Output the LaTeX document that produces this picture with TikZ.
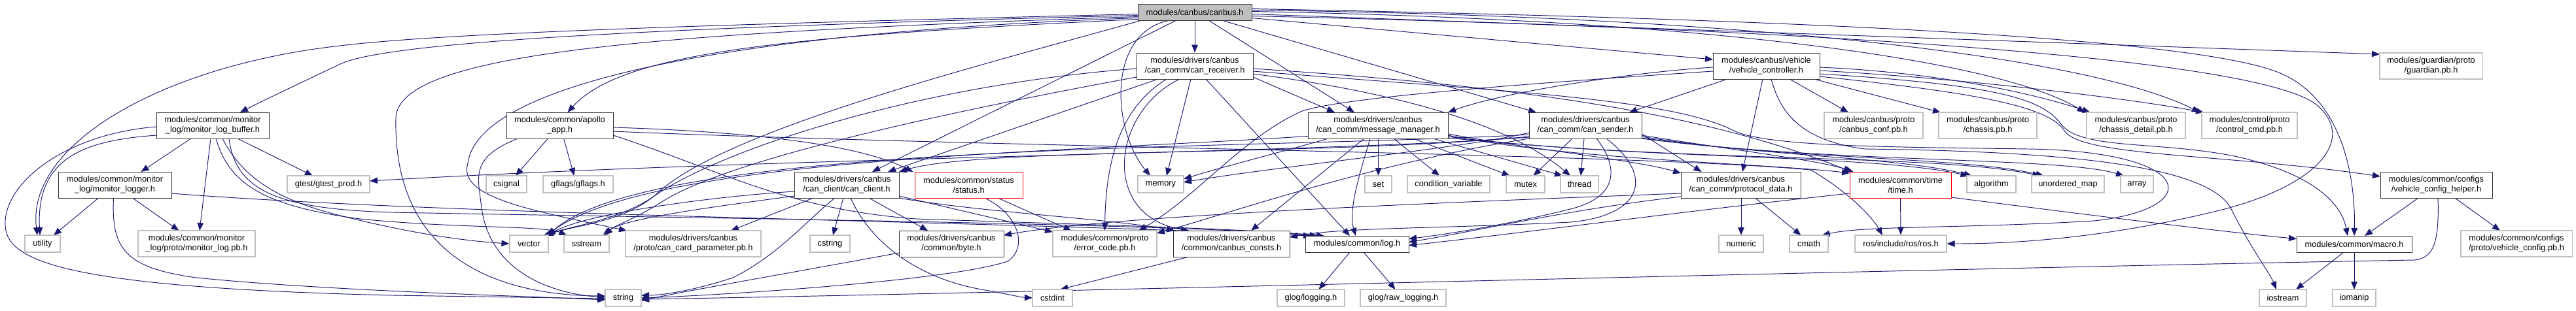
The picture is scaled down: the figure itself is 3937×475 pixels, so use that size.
\documentclass[tikz,border=0pt]{standalone}
\usepackage{fontspec}
\setmainfont{Liberation Sans}
\usetikzlibrary{arrows.meta,calc,backgrounds}
\definecolor{ec}{HTML}{191970}
\definecolor{gb}{HTML}{BFBFBF}
\newcommand{\lbl}{\fontsize{12.8}{15}\selectfont}
\tikzset{
  nd/.style={draw, fill=white, line width=1pt, inner sep=0pt, align=center, font=\lbl},
  bk/.style={nd, draw=black!80},
  gr/.style={nd, draw=gb, line width=1.1pt},
  rd/.style={nd, draw=red},
  cbx/.style={nd, draw=black!80, fill=gb},
  ed/.style={draw=ec, line width=0.95pt, -{Triangle[length=12pt,width=9.5pt]}},
}
\begin{document}
\begin{tikzpicture}[x=1pt,y=-1pt]
\useasboundingbox (0,0) rectangle (3937,475);
% nodes
\node[cbx, minimum width=174, minimum height=25] (cb) at (1826,18.5) {modules/canbus/canbus.h};
\node[bk, minimum width=178, minimum height=40] (rx) at (1826,101) {modules/drivers/canbus\\/can\_comm/can\_receiver.h};
\node[bk, minimum width=172, minimum height=40] (mlb) at (325,192) {modules/common/monitor\\\_log/monitor\_log\_buffer.h};
\node[bk, minimum width=173, minimum height=40] (logger) at (175.5,283) {modules/common/monitor\\\_log/monitor\_logger.h};
\node[gr, minimum width=54, minimum height=26] (utility) at (65,373) {utility};
\node[gr, minimum width=179, minimum height=40] (mlpb) at (300.5,373) {modules/common/monitor\\\_log/proto/monitor\_log.pb.h};
\node[gr, minimum width=126, minimum height=26] (gtest) at (502,282) {gtest/gtest\_prod.h};
\node[bk, minimum width=163, minimum height=40] (app) at (855.5,192) {modules/common/apollo\\\_app.h};
\node[gr, minimum width=62, minimum height=26] (csignal) at (774,282) {csignal};
\node[gr, minimum width=107, minimum height=26] (gflags) at (883.5,282) {gflags/gflags.h};
\node[gr, minimum width=59, minimum height=26] (vector) at (808.5,373) {vector};
\node[gr, minimum width=69, minimum height=26] (sstream) at (896.5,373) {sstream};
\node[gr, minimum width=207, minimum height=40] (ccp) at (1059.5,373) {modules/drivers/canbus\\/proto/can\_card\_parameter.pb.h};
\node[gr, minimum width=55, minimum height=26] (string) at (952.5,456) {string};
\node[bk, minimum width=160, minimum height=40] (cc) at (1294,283) {modules/drivers/canbus\\/can\_client/can\_client.h};
\node[rd, minimum width=165, minimum height=40] (status) at (1480.5,283) {modules/common/status\\/status.h};
\node[gr, minimum width=61, minimum height=26] (cstring) at (1268.5,373) {cstring};
\node[bk, minimum width=160, minimum height=40] (byte) at (1454,373) {modules/drivers/canbus\\/common/byte.h};
\node[gr, minimum width=70, minimum height=26] (memory) at (1774,282) {memory};
\node[gr, minimum width=159, minimum height=40] (errc) at (1688.5,373) {modules/common/proto\\/error\_code.pb.h};
\node[bk, minimum width=178, minimum height=40] (consts) at (1882,373) {modules/drivers/canbus\\/common/canbus\_consts.h};
\node[gr, minimum width=61, minimum height=26] (cstdint) at (1608.5,456) {cstdint};
\node[bk, minimum width=158, minimum height=25] (log) at (2074,373.5) {modules/common/log.h};
\node[gr, minimum width=103, minimum height=26] (glog) at (2003.5,456) {glog/logging.h};
\node[gr, minimum width=131, minimum height=26] (raw) at (2144.5,456) {glog/raw\_logging.h};
\node[bk, minimum width=214, minimum height=40] (mm) at (2106,192) {modules/drivers/canbus\\/can\_comm/message\_manager.h};
\node[bk, minimum width=172, minimum height=40] (snd) at (2423,192) {modules/drivers/canbus\\/can\_comm/can\_sender.h};
\node[gr, minimum width=41, minimum height=26] (set) at (2106.5,282) {set};
\node[gr, minimum width=126, minimum height=26] (condvar) at (2214,282) {condition\_variable};
\node[gr, minimum width=59, minimum height=26] (mutex) at (2331.5,282) {mutex};
\node[gr, minimum width=58, minimum height=26] (thread) at (2414,282) {thread};
\node[bk, minimum width=163, minimum height=40] (vc) at (2699.5,101) {modules/canbus/vehicle\\/vehicle\_controller.h};
\node[gr, minimum width=151, minimum height=40] (cconf) at (2863.5,192) {modules/canbus/proto\\/canbus\_conf.pb.h};
\node[gr, minimum width=150, minimum height=40] (chassis) at (3038,192) {modules/canbus/proto\\/chassis.pb.h};
\node[bk, minimum width=183, minimum height=40] (pd) at (2660.5,283) {modules/drivers/canbus\\/can\_comm/protocol\_data.h};
\node[rd, minimum width=155, minimum height=40] (time) at (2904.5,283) {modules/common/time\\/time.h};
\node[gr, minimum width=68, minimum height=26] (numeric) at (2661,373) {numeric};
\node[gr, minimum width=59, minimum height=26] (cmath) at (2764.5,373) {cmath};
\node[gr, minimum width=140, minimum height=26] (ros) at (2905,373) {ros/include/ros/ros.h};
\node[gr, minimum width=151, minimum height=40] (cdet) at (3264.5,192) {modules/canbus/proto\\/chassis\_detail.pb.h};
\node[gr, minimum width=146, minimum height=40] (ctrl) at (3438,192) {modules/control/proto\\/control\_cmd.pb.h};
\node[gr, minimum width=75, minimum height=26] (algorithm) at (3043.5,282) {algorithm};
\node[gr, minimum width=111, minimum height=26] (umap) at (3160.5,282) {unordered\_map};
\node[gr, minimum width=50, minimum height=26] (array) at (3266,282) {array};
\node[gr, minimum width=72, minimum height=26] (iostream) at (3489,456) {iostream};
\node[gr, minimum width=157, minimum height=40] (guardian) at (3715.5,101) {modules/guardian/proto\\/guardian.pb.h};
\node[bk, minimum width=171, minimum height=40] (vch) at (3723.5,283) {modules/common/configs\\/vehicle\_config\_helper.h};
\node[bk, minimum width=176, minimum height=25] (macro) at (3598,373.5) {modules/common/macro.h};
\node[gr, minimum width=170, minimum height=40] (vcpb) at (3846,373) {modules/common/configs\\/proto/vehicle\_config.pb.h};
\node[gr, minimum width=66, minimum height=26] (iomanip) at (3598,456) {iomanip};

\begin{pgfonlayer}{background}
% canbus.h
\draw[ed] (cb.south) -- (rx.north);
\draw[ed] ($(cb)+(-87,3)$) .. controls (1200,35) and (700,48) .. (520,70) .. controls (250,100) and (40,220) .. ($(utility)+(-8,-13)$);
\draw[ed] ($(cb)+(-87,5)$) .. controls (1100,40) and (600,60) .. (520,98) .. controls (440,136) and (390,160) .. ($(mlb)+(42,-20)$);
\draw[ed] ($(cb)+(-87,7)$) .. controls (1000,50) and (610,80) .. (605,180) .. controls (600,420) and (800,452) .. ($(string)+(-27.5,-3)$);
\draw[ed] ($(cb)+(-87,9)$) .. controls (1100,50) and (730,130) .. (715,250) .. controls (700,300) and (800,320) .. ($(ccp)+(-101.5,-20)$);
\draw[ed] ($(cb)+(-87,11)$) .. controls (1200,55) and (950,80) .. ($(app)+(12,-20)$);
\draw[ed] ($(cb)+(-81,12.5)$) .. controls (1500,100) and (1100,200) .. (1000,300) .. controls (950,340) and (880,345) .. ($(vector)+(25,-13)$);
\draw[ed] ($(cb)+(-28,12.5)$) -- ($(cc)+(39,-20)$);
\draw[ed] ($(cb)+(-38,12.5)$) .. controls (1690,50) and (1700,200) .. ($(memory)+(-16,-13)$);
\draw[ed] ($(cb)+(21,12.5)$) -- ($(mm)+(-36,-20)$);
\draw[ed] ($(cb)+(41,12.5)$) -- ($(snd)+(-75,-20)$);
\draw[ed] ($(cb)+(87,9)$) -- ($(vc)+(-81.5,-10)$);
\draw[ed] ($(cb)+(87,3)$) -- ($(guardian)+(-78.5,-18)$);
\draw[ed] ($(cb)+(87,-1)$) .. controls (2600,30) and (3050,90) .. ($(cdet)+(-78,-20)$);
\draw[ed] ($(cb)+(87,-3)$) .. controls (2700,25) and (3200,90) .. ($(ctrl)+(-76,-20)$);
\draw[ed] ($(cb)+(87,-5)$) .. controls (2800,30) and (3350,60) .. (3480,110) .. controls (3584,150) and (3600,280) .. ($(macro)+(0,-12.5)$);
\draw[ed] ($(cb)+(87,6)$) .. controls (2800,45) and (3450,90) .. (3540,160) .. controls (3600,210) and (3550,280) .. (3400,320) .. controls (3200,370) and (3050,373) .. (ros.east);
% monitor_log_buffer.h
\draw[ed] ($(mlb)+(-86,15)$) .. controls (130,215) and (55,240) .. ($(utility)+(-4,-13)$);
\draw[ed] ($(mlb)+(-86,2)$) .. controls (100,205) and (5,280) .. (8,345) .. controls (10,400) and (100,440) .. (600,452) -- ($(string)+(-27.5,1)$);
\draw[ed] ($(mlb)+(-33,20)$) -- ($(logger)+(40,-20)$);
\draw[ed] ($(mlb)+(-3,20)$) -- ($(mlpb)+(4.5,-20)$);
\draw[ed] ($(mlb)+(38,20)$) -- ($(gtest)+(-24,-13)$);
\draw[ed] ($(mlb)+(5,20)$) .. controls (350,280) and (400,315) .. (550,335) .. controls (700,350) and (830,345) .. ($(sstream)+(-30,-13)$);
\draw[ed] ($(mlb)+(15,20)$) .. controls (370,270) and (420,305) .. (520,330) .. controls (620,355) and (700,368) .. (vector.west);
\draw[ed] ($(mlb)+(25,20)$) .. controls (360,290) and (420,320) .. (600,325) .. controls (1000,333) and (1800,342) .. ($(log)+(-60,-12.5)$);
% monitor_logger.h
\draw[ed] ($(logger)+(-25,20)$) -- ($(utility)+(17,-13)$);
\draw[ed] ($(logger)+(27,20)$) -- ($(mlpb)+(-27,-20)$);
\draw[ed] ($(logger)+(-2,20)$) .. controls (170,380) and (190,410) .. (300,425) .. controls (500,445) and (800,453) .. ($(string)+(-27.5,3)$);
\draw[ed] ($(logger)+(86.5,13)$) .. controls (700,330) and (1500,338) .. ($(log)+(-70,-12.5)$);
% apollo_app.h
\draw[ed] ($(app)+(-18,20)$) -- ($(csignal)+(14,-13)$);
\draw[ed] ($(app)+(6,20)$) -- ($(gflags)+(-6,-13)$);
\draw[ed] ($(app)+(-64,20)$) .. controls (720,240) and (730,270) .. (735,310) .. controls (745,420) and (850,450) .. ($(string)+(-27.5,-1)$);
\draw[ed] ($(app)+(81.5,3)$) .. controls (1100,200) and (1300,215) .. ($(status)+(-85,-20)$);
\draw[ed] ($(app)+(81.5,15)$) .. controls (1100,260) and (1200,320) .. (1400,335) .. controls (1700,345) and (1900,350) .. ($(log)+(-50,-12.5)$);
\draw[ed] ($(app)+(81.5,9)$) .. controls (1500,225) and (2500,235) .. (2767,260) .. controls (2820,290) and (2860,330) .. ($(ros)+(-28,-13)$);
% can_client.h
\draw[ed] ($(cc)+(-51,20)$) -- ($(ccp)+(57.5,-20)$);
\draw[ed] ($(cc)+(-5,20)$) -- ($(cstring)+(4.5,-13)$);
\draw[ed] ($(cc)+(-18,20)$) .. controls (1230,340) and (1190,390) .. (1120,425) .. controls (1060,445) and (1010,452) .. ($(string)+(27.5,-4)$);
\draw[ed] ($(cc)+(6,20)$) .. controls (1330,370) and (1400,425) .. (1500,443) .. controls (1540,450) and (1560,455) .. ($(cstdint)+(-30.5,0)$);
\draw[ed] ($(cc)+(34,20)$) -- ($(byte)+(-36,-20)$);
\draw[ed] ($(cc)+(80,17)$) -- ($(errc)+(-79.5,-18)$);
\draw[ed] ($(cc)+(80,20)$) .. controls (1500,325) and (1700,335) .. ($(consts)+(-87,-20)$);
\draw[ed] ($(cc)+(-80,10)$) .. controls (1100,300) and (900,325) .. ($(vector)+(28,-13)$);
\draw[ed] ($(cc)+(-80,17)$) .. controls (1100,315) and (950,335) .. ($(sstream)+(28,-13)$);
% status.h, byte.h, consts, log.h
\draw[ed] ($(status)+(44.5,20)$) -- ($(errc)+(-51,-20)$);
\draw[ed] ($(status)+(24.5,20)$) .. controls (1560,330) and (1570,380) .. (1540,400) .. controls (1450,430) and (1100,452) .. ($(string)+(27.5,0)$);
\draw[ed] ($(byte)+(-80,14)$) .. controls (1250,410) and (1050,445) .. ($(string)+(27.5,4)$);
\draw[ed] ($(consts)+(-65,20)$) -- ($(cstdint)+(12,-13)$);
\draw[ed] ($(log)+(-11,12.5)$) -- ($(glog)+(12,-13)$);
\draw[ed] ($(log)+(10,12.5)$) -- ($(raw)+(-12,-13)$);
% can_receiver.h
\draw[ed] ($(rx)+(-6,20)$) -- ($(memory)+(9,-13)$);
\draw[ed] ($(rx)+(-43,20)$) .. controls (1720,160) and (1690,230) .. ($(errc)+(0,-20)$);
\draw[ed] ($(rx)+(-23,20)$) .. controls (1700,170) and (1680,330) .. ($(consts)+(-65,-20)$);
\draw[ed] ($(rx)+(17,20)$) -- ($(log)+(-11,-12.5)$);
\draw[ed] ($(rx)+(-56,20)$) -- ($(cc)+(63,-20)$);
\draw[ed] ($(rx)+(89,17)$) -- ($(mm)+(-66,-20)$);
\draw[ed] ($(rx)+(89,12)$) .. controls (2200,150) and (2330,210) .. ($(thread)+(-14,-13)$);
\draw[ed] ($(rx)+(-89,4)$) .. controls (1400,130) and (1100,230) .. (1000,300) .. controls (950,335) and (880,345) .. ($(vector)+(22,-13)$);
\draw[ed] ($(rx)+(-89,17)$) .. controls (1400,180) and (1100,250) .. (1010,310) .. controls (970,335) and (940,345) .. ($(sstream)+(25,-13)$);
\draw[ed] ($(rx)+(89,4)$) .. controls (2300,130) and (2600,170) .. ($(time)+(-75,-20)$);
\draw[ed] ($(rx)+(89,8)$) .. controls (2300,140) and (2550,150) .. (2650,200) .. controls (2700,225) and (2900,225) .. (3100,228) .. controls (3360,232) and (3370,320) .. (3200,338) .. controls (3000,350) and (2850,345) .. ($(cmath)+(20,-13)$);
% message_manager.h
\draw[ed] ($(mm)+(0.5,20)$) -- ($(set)+(0,-13)$);
\draw[ed] ($(mm)+(24,20)$) -- ($(condvar)+(-14,-13)$);
\draw[ed] ($(mm)+(54,20)$) -- ($(mutex)+(-24,-13)$);
\draw[ed] ($(mm)+(84,20)$) -- ($(thread)+(-26,-13)$);
\draw[ed] ($(mm)+(-12,20)$) .. controls (2080,260) and (2060,320) .. ($(log)+(-2,-12.5)$);
\draw[ed] ($(mm)+(-76,20)$) .. controls (1950,235) and (1870,255) .. ($(memory)+(35,-8)$);
\draw[ed] ($(mm)+(-100,16)$) .. controls (1600,235) and (1000,240) .. ($(vector)+(27,-13)$);
\draw[ed] ($(mm)+(-21,20)$) -- ($(consts)+(30,-20)$);
\draw[ed] ($(mm)+(107,13)$) .. controls (2350,230) and (2500,245) .. ($(pd)+(-91.5,-18)$);
\draw[ed] ($(mm)+(107,15)$) .. controls (2400,245) and (2700,250) .. ($(time)+(-77.5,-18)$);
\draw[ed] ($(mm)+(107,17)$) .. controls (2500,245) and (2850,235) .. ($(algorithm)+(-35,-13)$);
\draw[ed] ($(mm)+(107,19)$) .. controls (2600,250) and (2950,235) .. ($(umap)+(-42,-13)$);
% can_sender.h
\draw[ed] ($(snd)+(-20,20)$) -- ($(mutex)+(12,-13)$);
\draw[ed] ($(snd)+(-2,20)$) -- ($(thread)+(2,-13)$);
\draw[ed] ($(snd)+(17,20)$) .. controls (2470,250) and (2480,300) .. (2400,320) .. controls (2300,345) and (2200,360) .. ($(log)+(79,-8)$);
\draw[ed] ($(snd)+(32,20)$) .. controls (2530,270) and (2510,330) .. (2400,340) .. controls (2200,350) and (2050,348) .. ($(consts)+(89,-10)$);
\draw[ed] ($(snd)+(-86,11)$) .. controls (2250,225) and (1950,255) .. ($(memory)+(35,-3)$);
\draw[ed] ($(snd)+(-86,14)$) .. controls (1900,230) and (1000,215) .. ($(vector)+(29,-13)$);
\draw[ed] ($(snd)+(-86,17)$) .. controls (2000,240) and (1500,225) .. ($(cc)+(80,-20)$);
\draw[ed] ($(snd)+(-86,20)$) .. controls (2100,250) and (1900,320) .. ($(errc)+(79.5,-16)$);
\draw[ed] ($(snd)+(-86,18)$) .. controls (2000,235) and (1200,240) .. ($(gtest)+(63,-5)$);
\draw[ed] ($(snd)+(86,13)$) -- ($(pd)+(-60,-20)$);
\draw[ed] ($(snd)+(86,15)$) .. controls (2650,230) and (2780,245) .. ($(time)+(-72,-20)$);
\draw[ed] ($(snd)+(86,17)$) .. controls (2700,240) and (2900,240) .. ($(algorithm)+(-30,-13)$);
\draw[ed] ($(snd)+(86,19)$) .. controls (2750,245) and (3000,240) .. ($(umap)+(-37,-13)$);
\draw[ed] ($(snd)+(86,20)$) .. controls (2800,250) and (3150,240) .. ($(array)+(-20,-13)$);
% protocol_data.h
\draw[ed] ($(pd)+(0.5,20)$) -- ($(numeric)+(0,-13)$);
\draw[ed] ($(pd)+(22,20)$) -- ($(cmath)+(-12,-13)$);
\draw[ed] ($(pd)+(-91.5,13)$) .. controls (2200,310) and (1700,330) .. ($(byte)+(80,-13)$);
\draw[ed] ($(pd)+(-91.5,18)$) .. controls (2400,320) and (2250,355) .. ($(log)+(79,-3)$);
% time.h
\draw[ed] (time.south) -- (ros.north);
\draw[ed] ($(time)+(-77.5,13)$) .. controls (2600,320) and (2300,360) .. ($(log)+(79,2)$);
\draw[ed] ($(time)+(77.5,19)$) .. controls (3200,330) and (3400,355) .. ($(macro)+(-88,-8)$);
% vehicle_controller.h
\draw[ed] ($(vc)+(-5.5,20)$) -- ($(pd)+(2.5,-20)$);
\draw[ed] ($(vc)+(35.5,20)$) -- ($(cconf)+(-38.5,-20)$);
\draw[ed] ($(vc)+(72.5,20)$) -- ($(chassis)+(-72,-20)$);
\draw[ed] ($(vc)+(81.5,2)$) .. controls (2950,110) and (3100,140) .. ($(cdet)+(-70,-20)$);
\draw[ed] ($(vc)+(81.5,7)$) .. controls (3000,120) and (3250,150) .. ($(ctrl)+(-70,-20)$);
\draw[ed] ($(vc)+(81.5,12)$) .. controls (3050,130) and (3120,150) .. (3150,190) .. controls (3180,230) and (3300,215) .. (3420,240) .. controls (3550,270) and (3580,320) .. ($(macro)+(-10,-12.5)$);
\draw[ed] ($(vc)+(7.5,20)$) .. controls (2720,170) and (2750,215) .. (2850,228) .. controls (3200,232) and (3380,260) .. (3410,320) .. controls (3440,380) and (3470,420) .. ($(iostream)+(-10,-13)$);
\draw[ed] ($(vc)+(81.5,16)$) .. controls (3000,140) and (3130,160) .. (3155,200) .. controls (3180,240) and (3400,235) .. ($(vch)+(-85.5,-13)$);
\draw[ed] ($(vc)+(-81.5,2)$) .. controls (2500,110) and (2300,140) .. ($(mm)+(107,-20)$);
\draw[ed] ($(vc)+(-59.5,20)$) -- ($(snd)+(67,-20)$);
\draw[ed] ($(vc)+(-81.5,8)$) .. controls (2300,130) and (2050,150) .. (1990,170) .. controls (1900,210) and (1830,300) .. ($(errc)+(52,-20)$);
% vehicle_config_helper.h, macro.h
\draw[ed] ($(vch)+(-27.5,20)$) -- ($(macro)+(16,-12.5)$);
\draw[ed] ($(vch)+(28.5,20)$) -- ($(vcpb)+(-25,-20)$);
\draw[ed] ($(vch)+(2.5,20)$) .. controls (3728,370) and (3720,395) .. (3690,398) .. controls (3000,410) and (1500,450) .. ($(string)+(27.5,2)$);
\draw[ed] ($(macro)+(-16,12.5)$) -- ($(iostream)+(20,-13)$);
\draw[ed] ($(macro)+(0,12.5)$) -- ($(iomanip)+(0,-13)$);
\end{pgfonlayer}
\end{tikzpicture}
\end{document}
